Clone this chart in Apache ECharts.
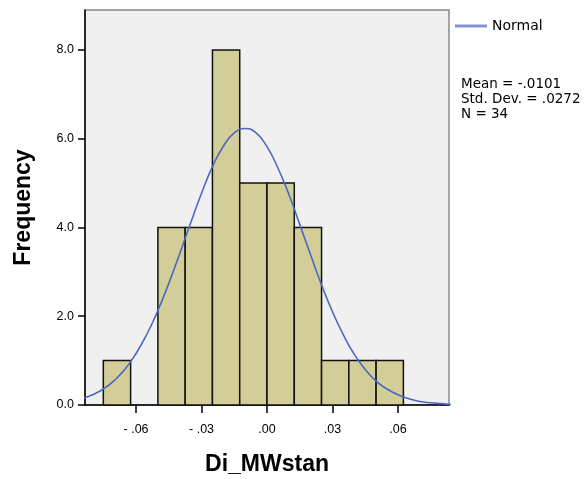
<!DOCTYPE html>
<html>
<head>
<meta charset="utf-8">
<script src="https://cdn.jsdelivr.net/npm/echarts@6/dist/echarts.min.js"></script>
<style>html,body{margin:0;padding:0;background:#fff;}#c{width:587px;height:479px;}</style>
</head>
<body>
<div id="c"></div>
<script>
// Histogram bins (width .0125)
const binStarts = [-0.075, -0.0625, -0.05, -0.0375, -0.025, -0.0125, 0, 0.0125, 0.025, 0.0375, 0.05];
const binEnds   = [-0.0625, -0.05, -0.0375, -0.025, -0.0125, 0, 0.0125, 0.025, 0.0375, 0.05, 0.0625];
const counts    = [1, 0, 4, 4, 8, 5, 5, 4, 1, 1, 1];
// Normal curve points
const curveX = [-0.085,-0.08,-0.075,-0.07,-0.065,-0.06,-0.055,-0.05,-0.045,-0.04,-0.035,-0.03,-0.025,-0.02,-0.015,-0.01,-0.005,0,0.005,0.01,0.015,0.02,0.025,0.03,0.035,0.04,0.045,0.05,0.055,0.06,0.065,0.07,0.075,0.08,0.085];
const curveY = [0.14,0.23,0.36,0.55,0.81,1.16,1.60,2.13,2.74,3.41,4.10,4.77,5.37,5.83,6.13,6.23,6.13,5.82,5.34,4.75,4.07,3.38,2.71,2.10,1.58,1.14,0.80,0.54,0.36,0.23,0.14,0.08,0.05,0.03,0.01];
const xTicks = [-0.06, -0.03, 0, 0.03, 0.06];
const yTicks = [0, 2, 4, 6, 8];
const statLines = ['Mean = -.0101', 'Std. Dev. = .0272', 'N = 34'];

const barData = binStarts.map((s, i) => [s, binEnds[i], counts[i]]).filter(d => d[2] > 0);
const lineData = curveX.map((x, i) => [x, curveY[i]]);

const chart = echarts.init(document.getElementById('c'));
chart.setOption({
  animation: false,
  backgroundColor: '#ffffff',
  textStyle: { fontFamily: 'Liberation Sans' },
  grid: { left: 85, right: 138, top: 10, bottom: 74, show: true, backgroundColor: '#F0F0F0', borderColor: '#888888', borderWidth: 1.5, outerBoundsMode: 'none', containLabel: false },
  legend: {
    left: 450, top: 14, itemWidth: 32, itemHeight: 3, itemGap: 5,
    icon: 'rect',
    textStyle: { fontSize: 14, color: '#000', fontFamily: 'DejaVu Sans' },
    data: [{ name: 'Normal', itemStyle: { color: '#7F95D6' } }]
  },
  xAxis: {
    type: 'value', min: -0.0834, max: 0.0834,
    name: 'Di_MWstan', nameLocation: 'middle', nameGap: 48,
    nameTextStyle: { fontSize: 23, fontWeight: 'bold', color: '#000', fontFamily: 'Liberation Sans' },
    axisLine: { show: true, onZero: false, lineStyle: { color: '#000', width: 1.5 } },
    axisTick: { show: true, length: 8, customValues: xTicks, lineStyle: { color: '#000', width: 1.5 } },
    axisLabel: { customValues: xTicks, margin: 18, fontSize: 12.5, color: '#000',
      formatter: v => { const s = Math.abs(v).toFixed(2).replace(/^0/, ''); return v < 0 ? '- ' + s : s; } },
    splitLine: { show: false }
  },
  yAxis: {
    type: 'value', min: 0, max: 8.9,
    name: 'Frequency', nameLocation: 'middle', nameGap: 50,
    nameTextStyle: { fontSize: 23, fontWeight: 'bold', color: '#000', fontFamily: 'Liberation Sans' },
    axisLine: { show: true, onZero: false, lineStyle: { color: '#000', width: 1.5 } },
    axisTick: { show: true, length: 7, customValues: yTicks, lineStyle: { color: '#000', width: 1.5 } },
    axisLabel: { customValues: yTicks, margin: 11, fontSize: 12.5, color: '#000', formatter: v => v.toFixed(1) },
    splitLine: { show: false }
  },
  graphic: statLines.map((t, i) => ({
    type: 'text', left: 461, top: 77 + i * 15,
    style: { text: t, fontSize: 13.5, fill: '#000', fontFamily: 'DejaVu Sans' }
  })),
  series: [
    {
      type: 'custom', name: 'bars',
      encode: { x: [0, 1], y: 2 },
      data: barData,
      renderItem: (params, api) => {
        const p0 = api.coord([api.value(0), api.value(2)]);
        const p1 = api.coord([api.value(1), 0]);
        return { type: 'rect', shape: { x: p0[0], y: p0[1], width: p1[0] - p0[0], height: p1[1] - p0[1] },
          style: { fill: '#D3CE98', stroke: '#111', lineWidth: 1.5 } };
      },
      z: 2
    },
    {
      type: 'line', name: 'Normal', data: lineData, smooth: true, showSymbol: false,
      lineStyle: { color: '#4B68C2', width: 1.6 }, itemStyle: { color: '#7F95D6' }, z: 3, clip: true
    }
  ]
});
</script>
</body>
</html>
